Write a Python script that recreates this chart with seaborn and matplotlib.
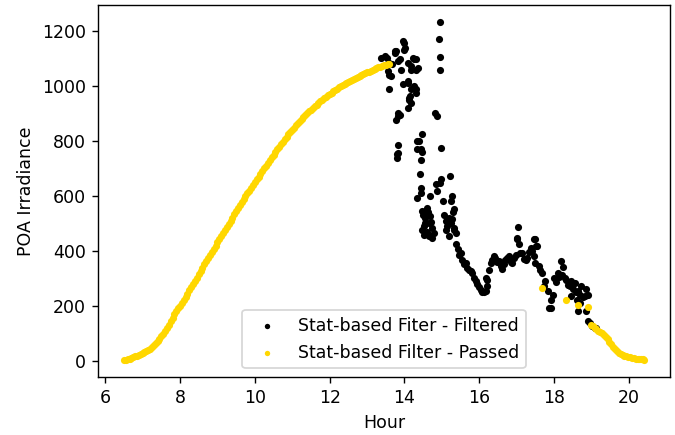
import matplotlib
matplotlib.use("Agg")
import matplotlib.pyplot as plt
import seaborn as sns

# clear-sky morning, every 3 minutes (passed)
morning_hour = [
    6.50, 6.55, 6.60, 6.65, 6.70, 6.75, 6.80, 6.85, 6.90, 6.95,
    7.00, 7.05, 7.10, 7.15, 7.20, 7.25, 7.30, 7.35, 7.40, 7.45,
    7.50, 7.55, 7.60, 7.65, 7.70, 7.75, 7.80, 7.85, 7.90, 7.95,
    8.00, 8.05, 8.10, 8.15, 8.20, 8.25, 8.30, 8.35, 8.40, 8.45,
    8.50, 8.55, 8.60, 8.65, 8.70, 8.75, 8.80, 8.85, 8.90, 8.95,
    9.00, 9.05, 9.10, 9.15, 9.20, 9.25, 9.30, 9.35, 9.40, 9.45,
    9.50, 9.55, 9.60, 9.65, 9.70, 9.75, 9.80, 9.85, 9.90, 9.95,
    10.00, 10.05, 10.10, 10.15, 10.20, 10.25, 10.30, 10.35, 10.40, 10.45,
    10.50, 10.55, 10.60, 10.65, 10.70, 10.75, 10.80, 10.85, 10.90, 10.95,
    11.00, 11.05, 11.10, 11.15, 11.20, 11.25, 11.30, 11.35, 11.40, 11.45,
    11.50, 11.55, 11.60, 11.65, 11.70, 11.75, 11.80, 11.85, 11.90, 11.95,
    12.00, 12.05, 12.10, 12.15, 12.20, 12.25, 12.30, 12.35, 12.40, 12.45,
    12.50, 12.55, 12.60, 12.65, 12.70, 12.75, 12.80, 12.85, 12.90, 12.95,
    13.00, 13.05, 13.10, 13.15, 13.20, 13.25, 13.30, 13.35, 13.40, 13.45,
    13.50, 13.55, 13.60,
]
morning_poa = [
    1, 3, 5, 7, 9, 12, 15, 18, 21, 24,
    28, 31, 35, 39, 43, 48, 55, 62, 70, 79,
    88, 98, 108, 120, 131, 143, 155, 168, 179, 190,
    200, 211, 222, 233, 244, 256, 267, 279, 291, 302,
    314, 326, 338, 350, 361, 373, 384, 396, 408, 419,
    431, 442, 454, 465, 476, 488, 499, 510, 521, 533,
    544, 555, 566, 577, 588, 599, 609, 619, 630, 640,
    650, 660, 670, 680, 690, 700, 710, 720, 730, 740,
    750, 759, 769, 778, 788, 797, 806, 815, 824, 832,
    841, 849, 857, 865, 873, 880, 887, 894, 901, 908,
    914, 920, 926, 932, 938, 944, 950, 955, 961, 966,
    971, 976, 981, 986, 990, 995, 999, 1003, 1007, 1011,
    1015, 1019, 1023, 1027, 1031, 1034, 1038, 1041, 1044, 1047,
    1050, 1053, 1056, 1059, 1062, 1065, 1068, 1070, 1073, 1075,
    1077, 1079, 1081,
]

# scattered afternoon points that passed + evening tail
evening_hour = [
    17.68, 18.31, 18.64, 18.91,
    18.98, 19.03, 19.08, 19.13, 19.18, 19.23, 19.28, 19.33, 19.38, 19.43,
    19.48, 19.53, 19.58, 19.63, 19.68, 19.73, 19.78, 19.83, 19.88, 19.93,
    19.98, 20.03, 20.08, 20.13, 20.18, 20.23, 20.28, 20.33, 20.38, 20.41,
]
evening_poa = [
    265, 222, 202, 195,
    131, 126, 120, 114, 109, 104, 99, 94, 87, 78,
    68, 59, 50, 42, 35, 29, 25, 21, 18, 16,
    14, 12, 10, 8, 7, 6, 5, 5, 4, 3,
]

# cloudy period (filtered)
filtered_hour = [
    13.38, 13.47, 13.52, 13.56, 13.60, 13.60, 13.60, 13.65, 13.68, 13.74,
    13.74, 13.78, 13.83, 13.87, 13.92, 13.96, 13.96, 14.00, 14.00, 14.02,
    14.09, 14.09, 14.09, 14.14, 14.09, 14.18, 14.18, 14.18, 14.18, 14.22,
    14.22, 14.25, 14.31, 14.31, 14.36, 14.31, 14.26, 14.32, 14.12, 14.13,
    13.83, 13.87, 13.78, 13.83,
    13.82, 13.82, 13.81, 13.81,
    14.46, 14.39, 14.34, 14.45, 14.34, 14.48, 14.44, 14.42, 14.43, 14.43, 14.34,
    14.94, 14.91, 14.94, 14.94, 14.82, 14.88, 14.97, 14.99, 14.95, 14.83, 15.22,
    14.69, 14.87, 15.04, 15.24, 15.28, 15.33,
    14.47, 14.61, 14.56, 14.69, 14.65, 14.52, 14.47, 14.74, 14.79, 14.52,
    14.74, 14.60, 14.55, 14.70, 14.50, 14.62, 14.66,
    15.06, 15.10, 15.15, 15.24, 15.33, 15.28, 15.19, 15.37, 15.10, 15.33,
    15.20, 15.30,
    15.37, 15.42, 15.46, 15.50, 15.55, 15.60, 15.64, 15.68, 15.72, 15.77,
    15.81, 15.86, 15.90, 15.95, 15.99, 16.04, 16.08, 16.12, 16.17, 16.21,
    16.17, 16.21, 16.25, 16.30, 16.35, 16.39, 16.43, 16.48, 16.52, 16.57,
    16.61, 16.65, 16.70, 16.75, 16.79, 16.84, 16.88, 16.93, 16.97, 17.00,
    17.02, 17.04, 17.06, 17.10, 17.15, 17.20, 17.24, 17.28, 17.33, 17.37,
    17.42, 17.46, 17.48, 17.52, 17.55, 17.50, 17.45, 17.59, 17.63, 17.68,
    17.73, 17.77, 17.83, 17.87, 17.92, 17.92, 17.96, 18.00, 18.05, 18.10,
    18.14, 18.18, 18.24, 18.20, 18.28, 18.33, 18.37, 18.42, 18.46, 18.50,
    18.55, 18.59, 18.64, 18.68, 18.73, 18.77, 18.82, 18.86, 18.90, 18.60,
    18.70, 18.45, 18.64, 18.86, 18.95, 18.91, 19.02, 19.08, 19.13,
]
filtered_poa = [
    1103, 1109, 1103, 1054, 1085, 1042, 990, 1036, 1079, 1127,
    1121, 1127, 1091, 1097, 1060, 1164, 1006, 1158, 1133, 1140,
    1085, 1018, 1012, 963, 921, 1073, 1060, 988, 939, 1103,
    994, 1097, 1097, 1060, 1066, 988, 1000, 976, 957, 951,
    903, 896, 878, 890,
    785, 757, 751, 739,
    824, 799, 799, 769, 769, 759, 732, 680, 629, 611, 593,
    1233, 1170, 1107, 1058, 903, 890, 773, 660, 648, 644, 674,
    599, 617, 581, 581, 599, 553,
    544, 556, 520, 526, 502, 489, 477, 484, 465, 459,
    447, 470, 500, 505, 530, 540, 455,
    532, 508, 489, 502, 484, 514, 453, 465, 477, 477,
    520, 540,
    423, 405, 386, 392, 365, 350, 356, 338, 330, 326,
    318, 301, 290, 277, 268, 258, 250, 248, 252, 271,
    301, 295, 330, 356, 365, 380, 374, 360, 362, 344,
    332, 350, 368, 372, 380, 360, 356, 372, 386, 441,
    447, 487, 423, 392, 392, 370, 365, 374, 395, 411,
    400, 441, 441, 417, 417, 356, 380, 344, 330, 320,
    271, 290, 253, 192, 222, 192, 240, 300, 285, 320,
    305, 362, 340, 310, 300, 295, 275, 271, 290, 260,
    283, 250, 253, 240, 271, 230, 234, 260, 240, 220,
    210, 235, 180, 180, 137, 143, 125, 120, 118,
]

passed_hour = morning_hour + evening_hour
passed_poa = morning_poa + evening_poa

fig, ax = plt.subplots(figsize=(5.4, 3.48), dpi=125)
fig.subplots_adjust(left=0.145, right=0.993, top=0.988, bottom=0.133)

sns.scatterplot(x=filtered_hour, y=filtered_poa, color="black", s=17,
                linewidth=0, label="Stat-based Fiter - Filtered", ax=ax)
sns.scatterplot(x=passed_hour, y=passed_poa, color="gold", s=17,
                linewidth=0, label="Stat-based Filter - Passed", ax=ax)

ax.set_xlabel("Hour")
ax.set_ylabel("POA Irradiance")
ax.set_xticks([6, 8, 10, 12, 14, 16, 18, 20])
ax.set_yticks([0, 200, 400, 600, 800, 1000, 1200])
ax.legend(loc="lower center", markerscale=0.75)

fig.savefig("out.png", dpi=125)
